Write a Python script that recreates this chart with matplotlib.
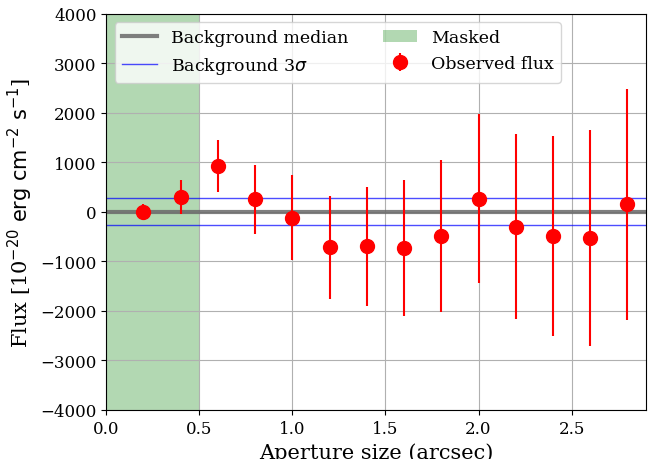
import numpy as np
import matplotlib
matplotlib.use('Agg')
import matplotlib.pyplot as plt

plt.rcParams['font.family'] = 'serif'

aperture = [0.2, 0.4, 0.6, 0.8, 1.0, 1.2, 1.4, 1.6, 1.8, 2.0, 2.2, 2.4, 2.6, 2.8]
flux = [0, 300, 920, 250, -120, -720, -700, -740, -485, 260, -300, -480, -530, 150]
flux_err = [150, 350, 525, 700, 860, 1040, 1205, 1375, 1540, 1705, 1865, 2020, 2180, 2335]
bkg_median = 0
bkg_sigma3 = 270
mask_edge = 0.5

fig = plt.figure(figsize=(6.48, 4.6), dpi=100)
ax = fig.add_axes([0.164, 0.107, 0.833, 0.861])

ax.axvspan(0, mask_edge, color='green', alpha=0.3, lw=0, label='Masked')
ax.axhline(bkg_median, color='dimgray', lw=3, alpha=0.85, label='Background median')
ax.axhline(bkg_median + bkg_sigma3, color='b', lw=1, alpha=0.7, label=r'Background 3$\sigma$')
ax.axhline(bkg_median - bkg_sigma3, color='b', lw=1, alpha=0.7)
ax.errorbar(aperture, flux, yerr=flux_err, fmt='o', color='red', ms=10, elinewidth=1.5,
            label='Observed flux')

ax.set_xlim(0, 2.9)
ax.set_ylim(-4000, 4000)
ax.grid(True)
ax.set_xlabel('Aperture size (arcsec)', fontsize=15)
ax.set_ylabel(r'Flux [10$^{-20}$ $\rm erg\ cm^{-2}\ s^{-1}$]', fontsize=15)
ax.tick_params(axis='both', which='major', labelsize=12)

h, l = ax.get_legend_handles_labels()
order = [1, 2, 0, 3]
ax.legend([h[i] for i in order], [l[i] for i in order], ncol=2, loc='upper left', fontsize=12.5)

fig.savefig('out.png', dpi=100)
